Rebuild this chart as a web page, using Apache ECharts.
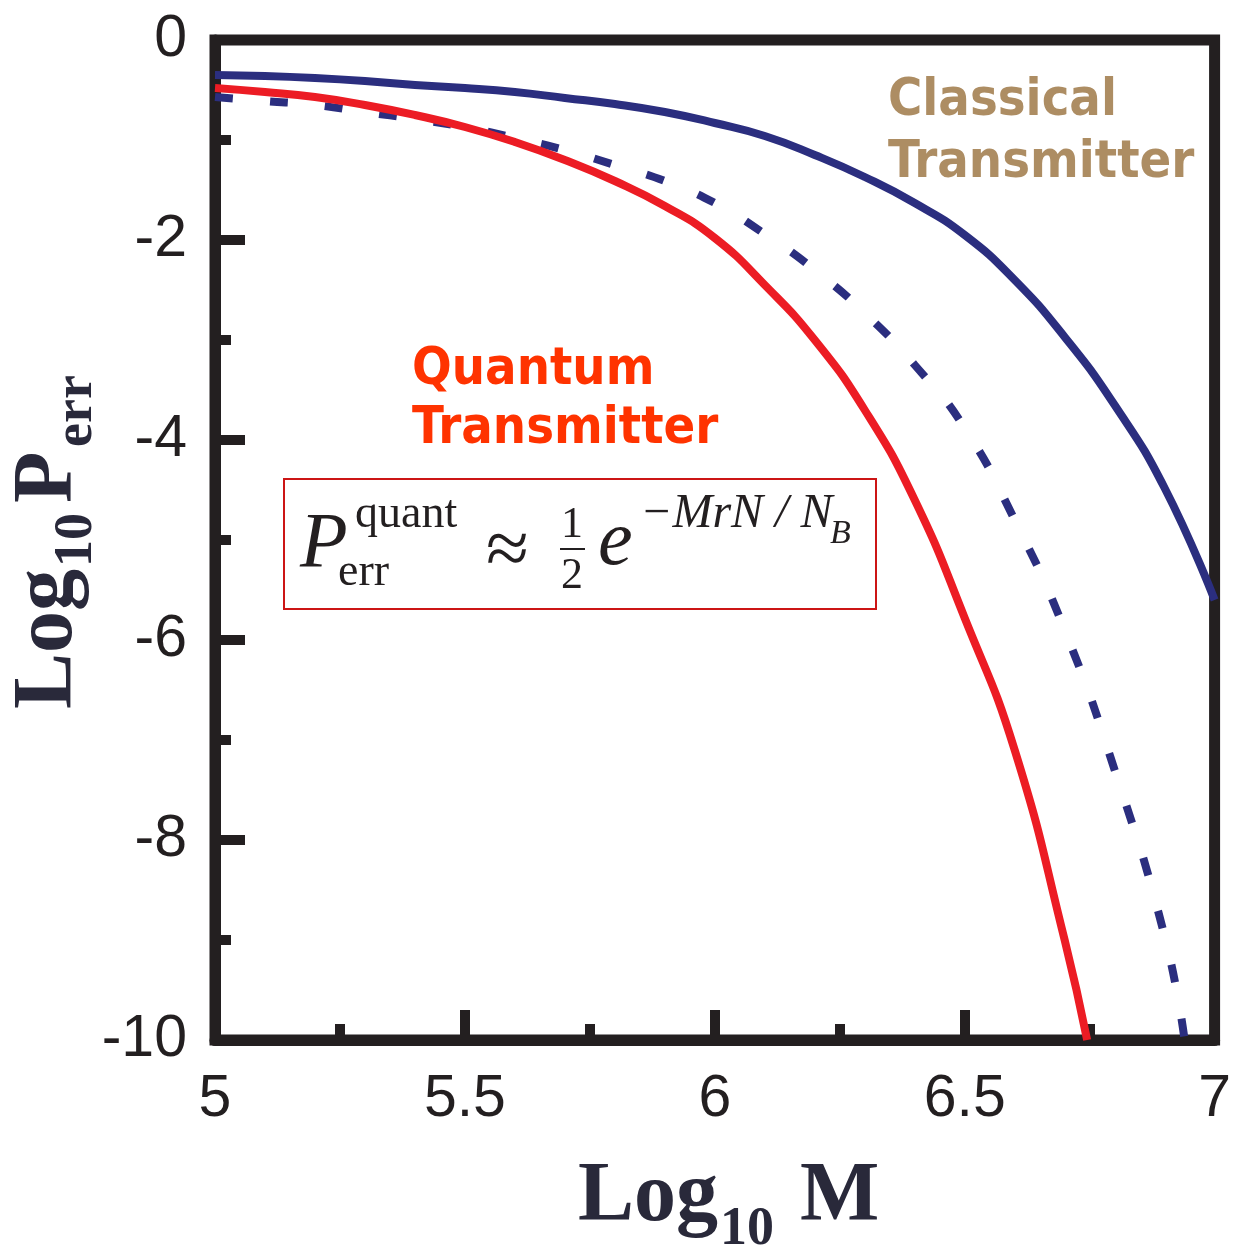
<!DOCTYPE html>
<html>
<head>
<meta charset="utf-8">
<script src="https://cdn.jsdelivr.net/npm/echarts@6/dist/echarts.min.js"></script>
<style>
  html, body { margin: 0; padding: 0; background: #fff; }
  #chart { width: 1234px; height: 1249px; }
</style>
</head>
<body>
<div id="chart"></div>
<script>
const xClassical = [5.0, 5.1, 5.2, 5.3, 5.4, 5.5, 5.6, 5.7, 5.8, 5.9, 6.0, 6.1, 6.2, 6.3, 6.4, 6.5, 6.6, 6.7, 6.8, 6.9, 7.0];
const yClassical = [-0.35, -0.36, -0.38, -0.41, -0.45, -0.48, -0.52, -0.58, -0.64, -0.72, -0.83, -0.96, -1.15, -1.37, -1.63, -1.95, -2.4, -2.97, -3.65, -4.48, -5.6];

const xQuantum = [5.0, 5.1, 5.2, 5.3, 5.4, 5.5, 5.6, 5.7, 5.8, 5.9, 6.0, 6.1, 6.2, 6.3, 6.4, 6.5, 6.6, 6.7, 6.745];
const yQuantum = [-0.48, -0.52, -0.57, -0.65, -0.75, -0.87, -1.02, -1.2, -1.41, -1.66, -1.98, -2.45, -3.0, -3.7, -4.6, -5.78, -7.1, -9.0, -10];

const xBound = [5.0, 5.1, 5.2, 5.3, 5.4, 5.5, 5.6, 5.7, 5.8, 5.9, 6.0, 6.1, 6.2, 6.3, 6.4, 6.5, 6.6, 6.7, 6.8, 6.9, 6.94];
const yBound = [-0.57, -0.61, -0.65, -0.72, -0.79, -0.87, -0.98, -1.1, -1.25, -1.41, -1.63, -1.94, -2.3, -2.73, -3.25, -3.88, -4.8, -5.9, -7.3, -8.96, -10];

const xTicks = { min: 5, max: 7, step: 0.5 };
const yTicks = { min: -10, max: 0, step: 2 };

const INK = '#231f20';
const NAVY = '#2b2e7f';
const TITLE = '#29293a';

function pairs(xs, ys) {
  return xs.map((x, i) => [x, ys[i]]);
}

// text placed by its baseline
function word(s, x, base, size, opt) {
  opt = opt || {};
  return {
    type: 'text',
    x: x,
    y: base - 0.32 * size,
    z: 100,
    style: {
      text: s,
      fontSize: size,
      fontFamily: opt.family || 'Liberation Serif',
      fontWeight: opt.weight || 'normal',
      fontStyle: opt.style || 'normal',
      fill: opt.fill || INK,
      align: opt.align || 'left',
      verticalAlign: 'middle'
    }
  };
}

const serifBold = { weight: 'bold', fill: TITLE };
const labelFont = { family: '"DejaVu Sans Condensed", "DejaVu Sans"', weight: 'bold' };

function axisBase(t) {
  return {
    type: 'value',
    min: t.min,
    max: t.max,
    interval: t.step,
    axisLine: { show: true, onZero: false, lineStyle: { color: INK, width: 11 } },
    axisTick: { show: true, inside: true, length: 30, lineStyle: { color: INK, width: 10 } },
    minorTick: { show: true, splitNumber: 2, length: 16, lineStyle: { color: INK, width: 10 } },
    splitLine: { show: false }
  };
}

const chart = echarts.init(document.getElementById('chart'));

chart.setOption({
  animation: false,
  backgroundColor: '#fff',
  grid: {
    left: 215, right: 12, top: 40, bottom: 209,
    show: true, borderColor: INK, borderWidth: 11, backgroundColor: 'transparent'
  },
  xAxis: Object.assign(axisBase(xTicks), {
    axisLabel: {
      color: INK, fontSize: 59, fontFamily: 'Liberation Sans', margin: 30,
      showMinLabel: true, showMaxLabel: true
    }
  }),
  yAxis: Object.assign(axisBase(yTicks), {
    axisLabel: {
      color: INK, fontSize: 59, fontFamily: 'Liberation Sans', margin: 28,
      showMinLabel: true, showMaxLabel: true
    }
  }),
  series: [
    {
      name: 'Classical',
      type: 'line',
      data: pairs(xClassical, yClassical),
      showSymbol: false,
      smooth: 0.5,
      lineStyle: { color: NAVY, width: 8 },
      z: 3
    },
    {
      name: 'Bound',
      type: 'line',
      data: pairs(xBound, yBound),
      showSymbol: false,
      smooth: 0.5,
      lineStyle: { color: NAVY, width: 8, type: [18, 37], cap: 'butt' },
      z: 4
    },
    {
      name: 'Quantum',
      type: 'line',
      data: pairs(xQuantum, yQuantum),
      showSymbol: false,
      smooth: 0.5,
      lineStyle: { color: '#ec1c24', width: 8 },
      z: 5
    }
  ],
  graphic: [
    word('Classical', 888, 118, 52, Object.assign({ fill: '#ad8d63' }, labelFont)),
    word('Transmitter', 888, 180, 52, Object.assign({ fill: '#ad8d63' }, labelFont)),
    word('Quantum', 412, 387, 52, Object.assign({ fill: '#ff3300' }, labelFont)),
    word('Transmitter', 412, 446, 52, Object.assign({ fill: '#ff3300' }, labelFont)),
    {
      type: 'rect',
      z: 90,
      shape: { x: 284, y: 479, width: 592, height: 130 },
      style: { fill: '#fff', stroke: '#cc1515', lineWidth: 2 }
    },
    word('P', 300, 570, 78, { style: 'italic' }),
    word('quant', 355, 530, 46),
    word('err', 338, 588, 46),
    word('\u2248', 486, 578, 78),
    word('1', 572, 540, 44, { align: 'center' }),
    {
      type: 'line', z: 100,
      shape: { x1: 560, y1: 549, x2: 585, y2: 549 },
      style: { stroke: INK, lineWidth: 2 }
    },
    word('2', 572, 591, 44, { align: 'center' }),
    word('e', 598, 568, 78, { style: 'italic' }),
    word('\u2212MrN / N', 640, 530, 48, { style: 'italic' }),
    word('B', 830, 545, 34, { style: 'italic' }),
    {
      type: 'group',
      x: 578,
      y: 1225,
      children: [
        word('Log', 0, 0, 84, serifBold),
        word('10', 142, 22, 54, serifBold),
        word('M', 222, 0, 84, serifBold)
      ]
    },
    {
      type: 'group',
      x: 76,
      y: 709,
      rotation: Math.PI / 2,
      children: [
        word('Log', 0, 0, 84, serifBold),
        word('10', 142, 18, 54, serifBold),
        word('P', 206, 0, 84, serifBold),
        word('err', 262, 18, 54, serifBold)
      ]
    }
  ]
});

window.addEventListener('resize', () => chart.resize());
</script>
</body>
</html>
